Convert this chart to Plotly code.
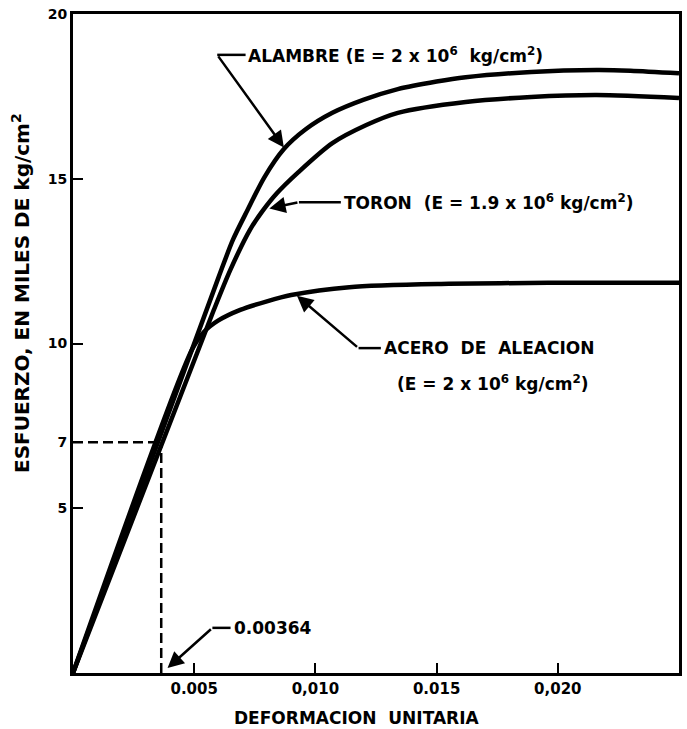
import plotly.graph_objects as go

# ---- data (strain, stress in thousands of kg/cm2) ----
alambre_x = [0, 0.0060, 0.0066, 0.0072, 0.0079, 0.0087, 0.0096, 0.0107, 0.0120, 0.0134, 0.0150, 0.0162, 0.0189, 0.0216, 0.0230, 0.0250]
alambre_y = [0, 12.0, 13.15, 14.05, 15.05, 15.9, 16.5, 17.0, 17.4, 17.72, 17.95, 18.08, 18.24, 18.3, 18.28, 18.2]

toron_x = [0, 0.0058, 0.0065, 0.0073, 0.0078, 0.0084, 0.0093, 0.0107, 0.0121, 0.0134, 0.0162, 0.0189, 0.0216, 0.0250]
toron_y = [0, 11.0, 12.25, 13.45, 14.0, 14.55, 15.2, 16.08, 16.63, 17.0, 17.33, 17.48, 17.54, 17.45]

acero_x = [0, 0.0049, 0.0054, 0.0060, 0.0069, 0.0080, 0.0090, 0.0114, 0.0155, 0.0196, 0.0250]
acero_y = [0, 9.8, 10.35, 10.7, 11.02, 11.28, 11.47, 11.71, 11.81, 11.84, 11.84]

ref_strain = 0.00364
ref_stress = 7

x_tickvals = [0.005, 0.010, 0.015, 0.020]
x_ticktext = ["0.005", "0,010", "0.015", "0,020"]
y_tickvals = [5, 7, 10, 15, 20]
y_ticktext = ["5", "7", "10", "15", "20"]

FONT = "DejaVu Sans"
LW = 4.5

fig = go.Figure()
for xs, ys in [(alambre_x, alambre_y), (toron_x, toron_y), (acero_x, acero_y)]:
    fig.add_trace(go.Scatter(x=xs, y=ys, mode="lines",
                             line=dict(color="black", width=LW, shape="spline", smoothing=0.8),
                             showlegend=False, hoverinfo="skip"))

# dashed reference lines
fig.add_shape(type="line", x0=0, x1=ref_strain, y0=ref_stress, y1=ref_stress,
              line=dict(color="black", width=2.5, dash="10px,5px"))
fig.add_shape(type="line", x0=ref_strain, x1=ref_strain, y0=0, y1=ref_stress,
              line=dict(color="black", width=2.5, dash="10px,5px"))

def leader(tail, head, hseg_end):
    fig.add_shape(type="line", x0=tail[0], x1=hseg_end, y0=tail[1], y1=tail[1],
                  line=dict(color="black", width=2.5))
    fig.add_annotation(x=head[0], y=head[1], ax=tail[0], ay=tail[1],
                       xref="x", yref="y", axref="x", ayref="y",
                       text="", showarrow=True, arrowhead=2, arrowsize=1.3,
                       arrowwidth=2.5, arrowcolor="black")

afont = dict(family=FONT, size=17, color="black", weight="bold")

# ALAMBRE
leader((0.00595, 18.76), (0.0087, 15.95), 0.00712)
fig.add_annotation(x=0.00714, y=18.76, xref="x", yref="y", xanchor="left", yanchor="middle",
                   text="ALAMBRE (E = 2 x 10<sup>6</sup>  kg/cm<sup>2</sup>)", showarrow=False, font=afont)
# TORON
leader((0.00932, 14.29), (0.0081, 14.1), 0.01105)
fig.add_annotation(x=0.01108, y=14.29, xref="x", yref="y", xanchor="left", yanchor="middle",
                   text="TORON  (E = 1.9 x 10<sup>6</sup> kg/cm<sup>2</sup>)", showarrow=False, font=afont)
# ACERO
leader((0.01178, 9.86), (0.00924, 11.45), 0.0127)
fig.add_annotation(x=0.01273, y=9.86, xref="x", yref="y", xanchor="left", yanchor="middle",
                   text="ACERO  DE  ALEACION", showarrow=False, font=afont)
fig.add_annotation(x=0.01330, y=8.80, xref="x", yref="y", xanchor="left", yanchor="middle",
                   text="(E = 2 x 10<sup>6</sup> kg/cm<sup>2</sup>)", showarrow=False, font=afont)
# 0.00364
leader((0.00575, 1.37), (0.0039, 0.15), 0.0065)
fig.add_annotation(x=0.00657, y=1.37, xref="x", yref="y", xanchor="left", yanchor="middle",
                   text="0.00364", showarrow=False, font=afont)

# axis titles
fig.add_annotation(x=-0.087, y=0.577, xref="paper", yref="paper", textangle=-90,
                   xanchor="center", yanchor="middle", showarrow=False,
                   text="ESFUERZO, EN MILES DE kg/cm<sup>2</sup>",
                   font=dict(family=FONT, size=20, color="black", weight="bold"))
fig.add_annotation(x=0.468, y=-0.068, xref="paper", yref="paper",
                   xanchor="center", yanchor="middle", showarrow=False,
                   text="DEFORMACION  UNITARIA",
                   font=dict(family=FONT, size=17, color="black", weight="bold"))

fig.update_xaxes(range=[0, 0.025], showgrid=False, zeroline=False,
                 showline=True, linecolor="black", linewidth=3, mirror=True,
                 ticks="inside", ticklen=10, tickwidth=2, tickcolor="black",
                 tickvals=x_tickvals, ticktext=x_ticktext,
                 tickfont=dict(family=FONT, size=15, color="black", weight="bold"))
fig.update_yaxes(range=[0, 20], showgrid=False, zeroline=False,
                 showline=True, linecolor="black", linewidth=3, mirror=True,
                 ticks="inside", ticklen=10, tickwidth=2, tickcolor="black",
                 tickvals=y_tickvals, ticktext=y_ticktext,
                 tickfont=dict(family=FONT, size=14, color="black", weight="bold"))

fig.update_layout(width=687, height=729, margin=dict(l=73, r=5, t=14, b=56),
                  plot_bgcolor="white", paper_bgcolor="white")

fig.write_html("out.html")
